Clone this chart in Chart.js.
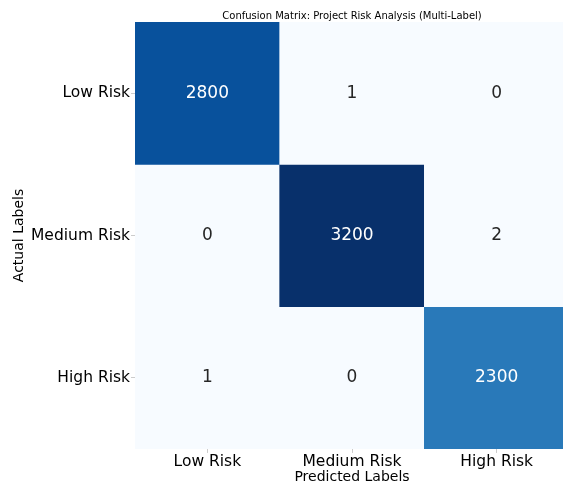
<!DOCTYPE html>
<html>
<head>
<meta charset="utf-8">
<script src="https://cdn.jsdelivr.net/npm/chart.js@4"></script>
<style>
  html, body { margin: 0; padding: 0; background: #fff; overflow: hidden; }
  #wrap { width: 569px; height: 484px; position: relative; }
</style>
</head>
<body>
<div id="wrap"><canvas id="cm"></canvas></div>
<script>
// labels for both axes
var categories = ['Low Risk', 'Medium Risk', 'High Risk'];
// one row per actual class, columns = predicted class
var lowRow    = [2800, 1, 0];
var mediumRow = [0, 3200, 2];
var highRow   = [1, 0, 2300];
var rows = [lowRow, mediumRow, highRow];
var chartTitle = 'Confusion Matrix: Project Risk Analysis (Multi-Label)';

// matplotlib "Blues"
var blues = [[247,251,255],[222,235,247],[198,219,239],[158,202,225],[107,174,214],
             [66,146,198],[33,113,181],[8,81,156],[8,48,107]];
var vmax = Math.max.apply(null, lowRow.concat(mediumRow, highRow));

function blueColor(v) {
    var t = Math.max(0, Math.min(1, v / vmax)) * (blues.length - 1);
    var i = Math.min(Math.floor(t), blues.length - 2);
    var f = t - i;
    var c = blues[i].map(function (a, k) { return Math.round(a + (blues[i + 1][k] - a) * f); });
    return 'rgb(' + c.join(',') + ')';
}

var datasets = rows.map(function (row, r) {
    return {
        label: categories[r],
        data: categories.map(function () { return [r, r + 1]; }),
        values: row,
        backgroundColor: row.map(blueColor),
        borderWidth: 0,
        barPercentage: 1,
        categoryPercentage: 1,
        grouped: false
    };
});

<!-- cell numbers + title centred over the plot area -->
var cellText = {
    id: 'cellText',
    afterDatasetsDraw: function (chart) {
        var ctx = chart.ctx;
        var area = chart.chartArea;
        ctx.save();
        ctx.font = '17px "DejaVu Sans"';
        ctx.textAlign = 'center';
        ctx.textBaseline = 'middle';
        chart.data.datasets.forEach(function (ds, i) {
            chart.getDatasetMeta(i).data.forEach(function (bar, j) {
                var p = bar.getCenterPoint();
                var v = ds.values[j];
                ctx.fillStyle = v / vmax > 0.5 ? '#ffffff' : '#262626';
                ctx.fillText(String(v), p.x, p.y);
            });
        });
        ctx.font = '10px "DejaVu Sans"';
        ctx.fillStyle = '#000';
        ctx.fillText(chartTitle, (area.left + area.right) / 2, area.top - 6);
        ctx.restore();
    }
};

new Chart(document.getElementById('cm'), {
    type: 'bar',
    data: { labels: categories, datasets: datasets },
    plugins: [cellText],
    options: {
        responsive: true,
        maintainAspectRatio: false,
        animation: false,
        layout: { padding: { left: 12, right: 0, top: 22, bottom: 0 } },
        plugins: {
            legend: { display: false },
            tooltip: { enabled: false },
            title: { display: false }
        },
        scales: {
            x: {
                type: 'category',
                offset: true,
                grid: { display: true, offset: false, drawOnChartArea: false, drawTicks: true, tickLength: 4, color: '#cccccc' },
                border: { display: false },
                ticks: { color: '#000', padding: 0, font: { family: 'DejaVu Sans', size: 15.5, lineHeight: 1.1 } },
                title: {
                    display: true, text: 'Predicted Labels', color: '#000',
                    font: { family: 'DejaVu Sans', size: 14, lineHeight: 1.0 },
                    padding: { top: 0, bottom: 0 }
                }
            },
            y: {
                type: 'linear',
                min: 0,
                max: 3,
                reverse: true,
                afterBuildTicks: function (axis) {
                    axis.ticks = [0.5, 1.5, 2.5].map(function (v) { return { value: v }; });
                },
                grid: { display: true, drawOnChartArea: false, drawTicks: true, tickLength: 4, color: '#cccccc' },
                border: { display: false },
                ticks: {
                    autoSkip: false,
                    color: '#000',
                    padding: 1,
                    font: { family: 'DejaVu Sans', size: 15.5 },
                    callback: function (v) { return categories[Math.floor(v)]; }
                },
                title: {
                    display: true, text: 'Actual Labels', color: '#000',
                    font: { family: 'DejaVu Sans', size: 14, lineHeight: 1.0 },
                    padding: { top: 0, bottom: 4 }
                }
            }
        }
    }
});
</script>
</body>
</html>
